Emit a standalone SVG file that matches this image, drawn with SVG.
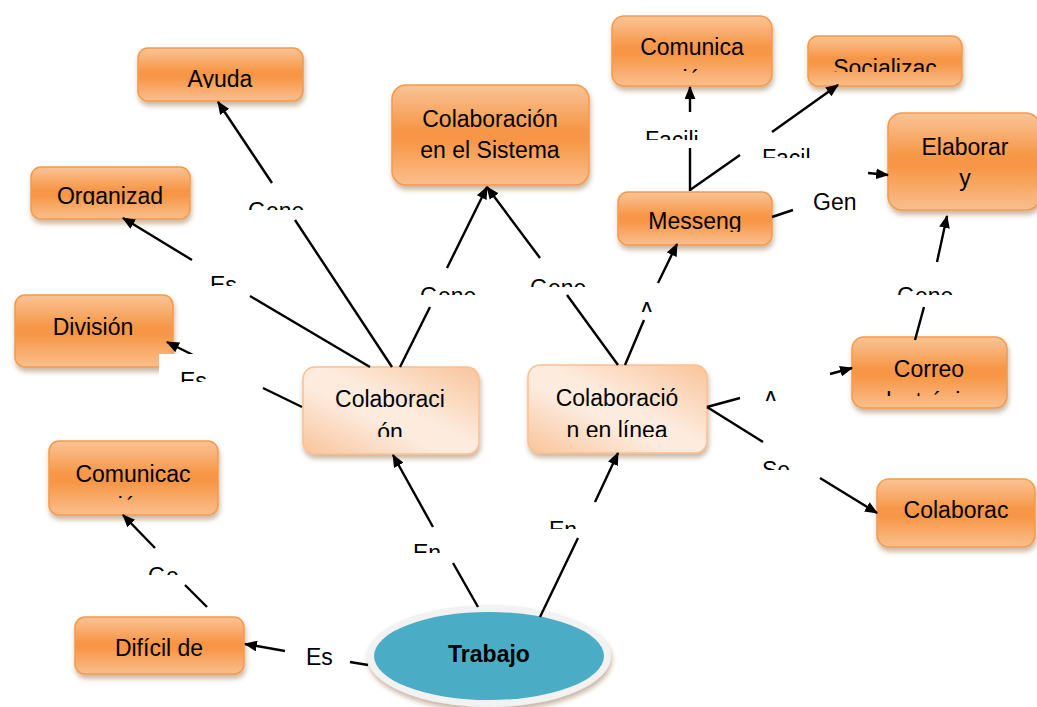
<svg xmlns="http://www.w3.org/2000/svg" width="1037" height="707" viewBox="0 0 1037 707">
<style>
.n{fill:url(#og);stroke:#F59A4A;stroke-width:1.5;filter:url(#sh)}
.l{fill:url(#lg);stroke:#FAC090;stroke-width:1.5;filter:url(#sh)}
.t{font-family:"Liberation Sans",Arial,sans-serif;font-size:23px;fill:#000;text-anchor:middle}
.lb{font-family:"Liberation Sans",Arial,sans-serif;font-size:23px;fill:#000}
.c{fill:none;stroke:#000;stroke-width:2.4;marker-end:url(#ah)}
</style>
<defs>
<linearGradient id="og" x1="0" y1="0" x2="0" y2="1">
<stop offset="0" stop-color="#FAC496"/>
<stop offset="0.45" stop-color="#F79646"/>
<stop offset="0.55" stop-color="#F79646"/>
<stop offset="1" stop-color="#FABF8E"/>
</linearGradient>
<linearGradient id="lg" x1="1" y1="0" x2="0" y2="1">
<stop offset="0" stop-color="#F9C49A"/>
<stop offset="0.45" stop-color="#FDEBDD"/>
<stop offset="0.6" stop-color="#FDEBDD"/>
<stop offset="1" stop-color="#F9C49A"/>
</linearGradient>
<filter id="sh" x="-10%" y="-10%" width="125%" height="135%">
<feDropShadow dx="1" dy="4" stdDeviation="2.5" flood-color="#7a4a1e" flood-opacity="0.4"/>
</filter>
<marker id="ah" viewBox="0 0 12 10" refX="11" refY="5" markerWidth="13" markerHeight="11" markerUnits="userSpaceOnUse" orient="auto">
<path d="M0,0 L12,5 L0,10 Z" fill="#000"/>
</marker>
<clipPath id="k1" clipPathUnits="userSpaceOnUse"><rect x="0" y="0" width="1037" height="88"/></clipPath>
<clipPath id="k2" clipPathUnits="userSpaceOnUse"><rect x="0" y="0" width="1037" height="205"/></clipPath>
<clipPath id="k3" clipPathUnits="userSpaceOnUse"><rect x="0" y="0" width="1037" height="73"/></clipPath>
<clipPath id="k4" clipPathUnits="userSpaceOnUse"><rect x="0" y="0" width="1037" height="72"/></clipPath>
<clipPath id="k5" clipPathUnits="userSpaceOnUse"><rect x="0" y="0" width="1037" height="232"/></clipPath>
<clipPath id="k6" clipPathUnits="userSpaceOnUse"><rect x="0" y="0" width="1037" height="396"/></clipPath>
<clipPath id="k7" clipPathUnits="userSpaceOnUse"><rect x="0" y="0" width="1037" height="501"/></clipPath>
<clipPath id="k8" clipPathUnits="userSpaceOnUse"><rect x="0" y="0" width="1037" height="437"/></clipPath>
<clipPath id="c1" clipPathUnits="userSpaceOnUse"><rect x="0" y="0" width="1037" height="210"/></clipPath>
<clipPath id="c2" clipPathUnits="userSpaceOnUse"><rect x="0" y="0" width="1037" height="286"/></clipPath>
<clipPath id="c3" clipPathUnits="userSpaceOnUse"><rect x="0" y="0" width="1037" height="382"/></clipPath>
<clipPath id="c4" clipPathUnits="userSpaceOnUse"><rect x="0" y="0" width="1037" height="295"/></clipPath>
<clipPath id="c5" clipPathUnits="userSpaceOnUse"><rect x="0" y="0" width="1037" height="287"/></clipPath>
<clipPath id="c6" clipPathUnits="userSpaceOnUse"><rect x="0" y="0" width="1037" height="312"/></clipPath>
<clipPath id="c7" clipPathUnits="userSpaceOnUse"><rect x="0" y="0" width="1037" height="140"/></clipPath>
<clipPath id="c8" clipPathUnits="userSpaceOnUse"><rect x="0" y="0" width="1037" height="158"/></clipPath>
<clipPath id="c11" clipPathUnits="userSpaceOnUse"><rect x="0" y="0" width="1037" height="401"/></clipPath>
<clipPath id="c12" clipPathUnits="userSpaceOnUse"><rect x="0" y="0" width="1037" height="470"/></clipPath>
<clipPath id="c13" clipPathUnits="userSpaceOnUse"><rect x="0" y="0" width="1037" height="553"/></clipPath>
<clipPath id="c14" clipPathUnits="userSpaceOnUse"><rect x="0" y="0" width="1037" height="529"/></clipPath>
<clipPath id="c16" clipPathUnits="userSpaceOnUse"><rect x="0" y="0" width="1037" height="575"/></clipPath>
</defs>

<g id="nodes">
<g id="node-ayuda"><rect class="n" x="138" y="48" width="165" height="53" rx="10"/><text class="t" x="220" y="87" clip-path="url(#k1)">Ayuda</text></g>
<g id="node-organizad"><rect class="n" x="31" y="167" width="159" height="52" rx="10"/><text class="t" x="110" y="204" clip-path="url(#k2)">Organizad</text></g>
<g id="node-division"><rect class="n" x="15" y="295" width="158" height="72" rx="10"/><text class="t" x="93" y="335">División</text></g>
<g id="node-comunicac"><rect class="n" x="49" y="441" width="169" height="74" rx="10"/><text class="t" x="133" y="482">Comunicac</text><text class="t" x="133" y="514" clip-path="url(#k7)">ión</text></g>
<g id="node-dificil"><rect class="n" x="75" y="617" width="169" height="57" rx="10"/><text class="t" x="159" y="656">Difícil de</text></g>
<g id="node-sistema"><rect class="n" x="392" y="85" width="197" height="100" rx="14"/><text class="t" x="490" y="127">Colaboración</text><text class="t" x="490" y="158">en el Sistema</text></g>
<g id="node-comunica"><rect class="n" x="612" y="16" width="160" height="70" rx="12"/><text class="t" x="692" y="55">Comunica</text><text class="t" x="692" y="87" clip-path="url(#k3)">ción</text></g>
<g id="node-socializac"><rect class="n" x="808" y="36" width="154" height="50" rx="10"/><text class="t" x="885" y="76" clip-path="url(#k4)">Socializac</text></g>
<g id="node-elaborar"><rect class="n" x="888" y="113" width="152" height="97" rx="14"/><text class="t" x="965" y="155">Elaborar</text><text class="t" x="965" y="186">y</text></g>
<g id="node-messeng"><rect class="n" x="618" y="192" width="154" height="53" rx="10"/><text class="t" x="695" y="229" clip-path="url(#k5)">Messeng</text></g>
<g id="node-correo"><rect class="n" x="852" y="337" width="155" height="71" rx="12"/><text class="t" x="929" y="377">Correo</text><text class="t" x="929" y="409" clip-path="url(#k6)">electrónico</text></g>
<g id="node-colaborac"><rect class="n" x="877" y="479" width="158" height="68" rx="12"/><text class="t" x="956" y="518">Colaborac</text></g>
<g id="node-colaboracion"><rect class="l" x="303" y="367" width="176" height="87" rx="12"/><text class="t" x="390" y="407">Colaboraci</text><text class="t" x="390" y="440" clip-path="url(#k8)">ón</text></g>
<g id="node-linea"><rect class="l" x="528" y="365" width="179" height="88" rx="12"/><text class="t" x="617" y="406">Colaboració</text><text class="t" x="617" y="438" clip-path="url(#k8)">n en línea</text></g>
<g id="node-trabajo"><ellipse cx="489" cy="656" rx="122" ry="51" fill="#F2F2F2" filter="url(#sh)"/><ellipse cx="489" cy="656" rx="115" ry="44" fill="#4BACC6"/><text class="t" x="489" y="662" font-weight="bold">Trabajo</text></g>
</g>

<g id="connectors">
<path class="c" d="M392,367 L295,220 M272,183 L218,102"/>
<path class="c" d="M370,367 L250,296 M192,260 L123,218"/>
<path class="c" d="M302,407 L263,388 M193,355 L167,342"/>
<path class="c" d="M400,367 L430,307 M447,268 L487,187"/>
<path class="c" d="M618,365 L567,295 M540,258 L487,187"/>
<path class="c" d="M625,365 L644,320 M658,283 L677,244"/>
<path class="c" d="M690,191 L690,148 M690,112 L690,87"/>
<path class="c" d="M690,190 L740,155 M772,132 L838,85"/>
<path class="c" d="M772,217 L793,210 M868,173 L888,175"/>
<path class="c" d="M915,340 L924,307 M937,262 L947,216"/>
<path class="c" d="M707,407 L740,398 M830,374 L852,368"/>
<path class="c" d="M707,407 L763,442 M820,478 L877,513"/>
<path class="c" d="M478,607 L453,563 M433,527 L393,455"/>
<path class="c" d="M540,617 L578,538 M595,502 L618,453"/>
<path class="c" d="M368,665 L350,662 M285,651 L245,644"/>
<path class="c" d="M207,607 L185,585 M155,548 L123,515"/>
</g>

<g id="labels">
<rect x="159" y="354" width="103" height="35" fill="#fff"/>
<text class="lb" x="248" y="219" clip-path="url(#c1)">Gene</text>
<text class="lb" x="210" y="293" clip-path="url(#c2)">Es</text>
<text class="lb" x="180" y="389" clip-path="url(#c3)">Es</text>
<text class="lb" x="420" y="304" clip-path="url(#c4)">Gene</text>
<text class="lb" x="530" y="296" clip-path="url(#c5)">Gene</text>
<text class="lb" x="639" y="319" clip-path="url(#c6)">A</text>
<text class="lb" x="645" y="148" clip-path="url(#c7)">Facili</text>
<text class="lb" x="762" y="166" clip-path="url(#c8)">Facil</text>
<text class="lb" x="813" y="210">Gen</text>
<text class="lb" x="897" y="304" clip-path="url(#c4)">Gene</text>
<text class="lb" x="763" y="408" clip-path="url(#c11)">A</text>
<text class="lb" x="762" y="478" clip-path="url(#c12)">Se</text>
<text class="lb" x="413" y="561" clip-path="url(#c13)">En</text>
<text class="lb" x="549" y="538" clip-path="url(#c14)">En</text>
<text class="lb" x="306" y="665">Es</text>
<text class="lb" x="148" y="584" clip-path="url(#c16)">Ge</text>
</g>
</svg>
